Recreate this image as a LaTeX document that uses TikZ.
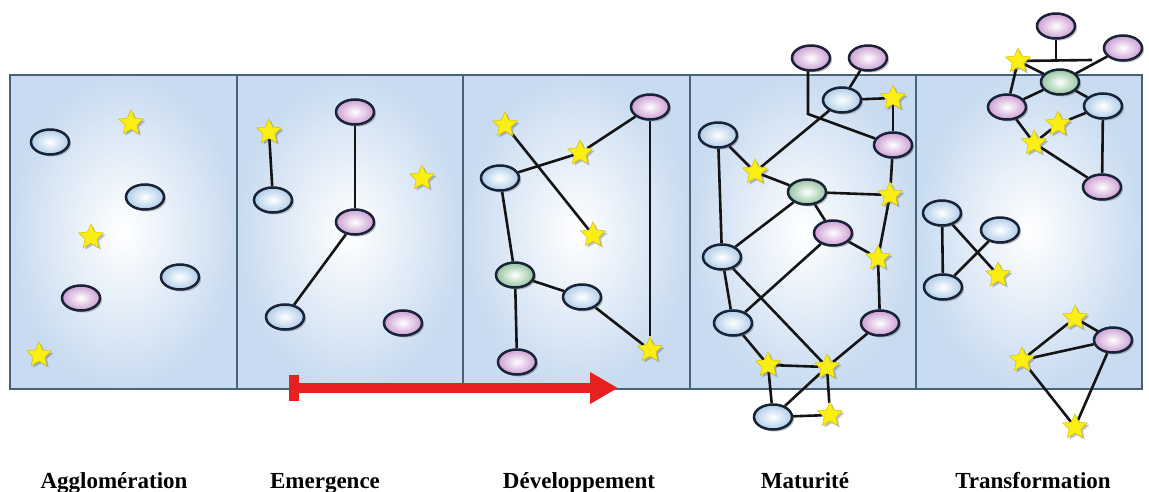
\documentclass[tikz,border=0pt]{standalone}
\usepackage{fontspec}
\setmainfont{Liberation Serif}
\usetikzlibrary{shapes.geometric,shadows,arrows.meta}
\pgfdeclarelayer{back}
\pgfdeclarelayer{mid}
\pgfsetlayers{back,mid,main}
\definecolor{panelc}{RGB}{200,219,240}
\definecolor{frame}{RGB}{70,100,120}
\definecolor{bluec}{RGB}{175,205,232}
\definecolor{pinkc}{RGB}{204,158,210}
\definecolor{greenc}{RGB}{148,196,158}
\definecolor{ellc}{RGB}{25,35,55}
\definecolor{starc}{RGB}{250,238,20}
\definecolor{stard}{RGB}{215,195,0}
\definecolor{linec}{RGB}{20,20,20}
\definecolor{arrowc}{RGB}{232,32,32}
\begin{document}
\begin{tikzpicture}[x=1pt,y=-1pt,
  shd/.style={drop shadow={shadow xshift=2pt,shadow yshift=-2pt,opacity=0.35,fill=black!70}},
  ell/.style={ellipse,minimum width=38pt,minimum height=25pt,inner sep=0pt,draw=ellc,line width=2.5pt,shading=radial,shd},
  bl/.style={ell,outer color=bluec,inner color=white},
  pk/.style={ell,outer color=pinkc,inner color=white},
  gr/.style={ell,outer color=greenc,inner color=white},
  st/.style={star,star points=5,star point ratio=2.1,minimum size=26pt,inner sep=0pt,fill=starc,draw=stard,line width=0.5pt,shd},
  ln/.style={line width=2.6pt,draw=linec},
  panel/.style={draw=frame,line width=1.2pt,shading=radial,inner color=white,outer color=panelc},
  lab/.style={anchor=base,font=\bfseries\fontsize{23}{23}\selectfont}]
\useasboundingbox (0,0) rectangle (1149,492);
\begin{pgfonlayer}{back}
\fill[white] (0,0) rectangle (1149,492);
\path[panel] (10,75) rectangle (237,389);
\path[panel] (237,75) rectangle (463,389);
\path[panel] (463,75) rectangle (690,389);
\path[panel] (690,75) rectangle (916,389);
\path[panel] (916,75) rectangle (1142,389);
\end{pgfonlayer}

% Panel 1
\node[bl] (p1a) at (50,142) {};
\node[st] (p1b) at (131,123) {};
\node[bl] (p1c) at (145,197) {};
\node[st] (p1d) at (91,237) {};
\node[bl] (p1e) at (180,277) {};
\node[pk] (p1f) at (81,298) {};
\node[st] (p1g) at (39,355) {};

% Panel 2
\node[st] (p2a) at (269,132) {};
\node[bl] (p2b) at (273,200) {};
\node[pk] (p2c) at (355,112) {};
\node[pk] (p2d) at (355,222) {};
\node[st] (p2e) at (422,178) {};
\node[bl] (p2f) at (285,317) {};
\node[pk] (p2g) at (403,323) {};
\begin{pgfonlayer}{mid}
\draw[ln] (p2a) -- (p2b);
\draw[ln] (p2c) -- (p2d);
\draw[ln] (p2d) -- (p2f);
\end{pgfonlayer}

% Panel 3
\node[st] (p3a) at (505,125) {};
\node[pk] (p3b) at (650,107) {};
\node[st] (p3c) at (580,153) {};
\node[bl] (p3d) at (500,178) {};
\node[st] (p3e) at (593,235) {};
\node[gr] (p3f) at (515,275) {};
\node[bl] (p3g) at (582,297) {};
\node[pk] (p3h) at (517,362) {};
\node[st] (p3i) at (650,350) {};
\begin{pgfonlayer}{mid}
\draw[ln] (p3a) -- (p3e);
\draw[ln] (p3d) -- (p3c);
\draw[ln] (p3c) -- (p3b);
\draw[ln] (p3d) -- (p3f);
\draw[ln] (p3f) -- (p3g);
\draw[ln] (p3g) -- (p3i);
\draw[ln] (p3f) -- (p3h);
\draw[ln] (p3b) -- (p3i);
\end{pgfonlayer}

% Panel 4
\node[pk] (p4a) at (811,58) {};
\node[pk] (p4b) at (868,58) {};
\node[bl] (p4c) at (842,100) {};
\node[st] (p4d) at (893,98) {};
\node[pk] (p4e) at (893,145) {};
\node[bl] (p4f) at (718,135) {};
\node[st] (p4g) at (755,172) {};
\node[gr] (p4h) at (807,192) {};
\node[st] (p4i) at (890,195) {};
\node[pk] (p4j) at (833,233) {};
\node[st] (p4k) at (878,258) {};
\node[bl] (p4l) at (722,257) {};
\node[bl] (p4m) at (733,323) {};
\node[pk] (p4n) at (880,323) {};
\node[st] (p4o) at (768,365) {};
\node[st] (p4p) at (827,367) {};
\node[bl] (p4q) at (773,417) {};
\node[st] (p4r) at (830,415) {};
\coordinate (p4bend) at (808,114);
\begin{pgfonlayer}{mid}
\draw[ln] (p4a.south west -| p4bend) -- (p4bend) -- (p4e);
\draw[ln] (p4b) -- (p4c);
\draw[ln] (p4c) -- (p4d);
\draw[ln] (p4d) -- (p4e);
\draw[ln] (p4g) -- (p4c);
\draw[ln] (p4f) -- (p4g);
\draw[ln] (p4g) -- (p4h);
\draw[ln] (p4h) -- (p4i);
\draw[ln] (p4e) -- (p4i);
\draw[ln] (p4h) -- (p4j);
\draw[ln] (p4h) -- (p4l);
\draw[ln] (p4i) -- (p4k);
\draw[ln] (p4j) -- (p4k);
\draw[ln] (p4f) -- (p4l);
\draw[ln] (p4k) -- (p4n);
\draw[ln] (p4l) -- (p4m);
\draw[ln] (p4l) -- (p4p);
\draw[ln] (p4j) -- (p4m);
\draw[ln] (p4m) -- (p4o);
\draw[ln] (p4o) -- (p4p);
\draw[ln] (p4n) -- (p4p);
\draw[ln] (p4o) -- (p4q);
\draw[ln] (p4p) -- (p4q);
\draw[ln] (p4p) -- (p4r);
\draw[ln] (p4q) -- (p4r);
\end{pgfonlayer}

% Panel 5
\node[pk] (p5a) at (1056,26) {};
\node[pk] (p5b) at (1123,48) {};
\node[st] (p5c) at (1018,61) {};
\node[gr] (p5d) at (1060,82) {};
\node[pk] (p5e) at (1007,107) {};
\node[bl] (p5f) at (1103,106) {};
\node[st] (p5g) at (1058,124) {};
\node[st] (p5h) at (1034,143) {};
\node[pk] (p5i) at (1102,187) {};
\node[bl] (p5j) at (942,213) {};
\node[bl] (p5k) at (1000,230) {};
\node[st] (p5l) at (998,275) {};
\node[bl] (p5m) at (943,287) {};
\node[st] (p5n) at (1075,318) {};
\node[pk] (p5o) at (1113,340) {};
\node[st] (p5p) at (1022,360) {};
\node[st] (p5q) at (1075,427) {};
\coordinate (p5t) at (1092,60);
\begin{pgfonlayer}{mid}
\draw[ln] (p5c) -- (p5t);
\draw[ln] (p5a) -- (p5a |- p5t);
\draw[ln] (p5c) -- (p5d);
\draw[ln] (p5d) -- (p5b);
\draw[ln] (p5c) -- (p5e);
\draw[ln] (p5d) -- (p5e);
\draw[ln] (p5d) -- (p5f);
\draw[ln] (p5e) -- (p5h);
\draw[ln] (p5h) -- (p5g);
\draw[ln] (p5g) -- (p5f);
\draw[ln] (p5h) -- (p5i);
\draw[ln] (p5f) -- (p5i);
\draw[ln] (p5j) -- (p5m);
\draw[ln] (p5j) -- (p5l);
\draw[ln] (p5m) -- (p5k);
\draw[ln] (p5n) -- (p5p);
\draw[ln] (p5n) -- (p5o);
\draw[ln] (p5p) -- (p5o);
\draw[ln] (p5p) -- (p5q);
\draw[ln] (p5o) -- (p5q);
\end{pgfonlayer}

% Red arrow
\coordinate (ars) at (289,388);
\coordinate (are) at (618,388);
\draw[draw=arrowc,line width=10pt,{Bar[width=26pt]}-{Triangle[length=28pt,width=30pt]}] (ars) -- (are);

% Labels
\node[lab] (l1) at (114,488) {Agglomération};
\node[lab] (l2) at (325,488) {Emergence};
\node[lab] (l3) at (579,488) {Développement};
\node[lab] (l4) at (805,488) {Maturité};
\node[lab] (l5) at (1033,488) {Transformation};
\end{tikzpicture}
\end{document}
